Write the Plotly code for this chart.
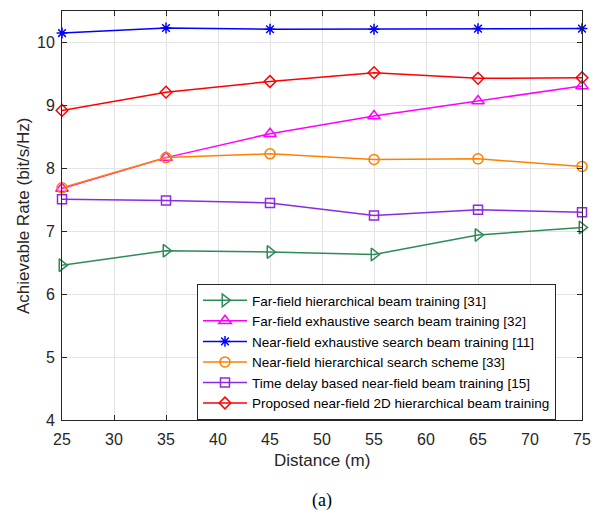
import plotly.graph_objects as go

distance = [25, 35, 45, 55, 65, 75]
far_hier = [6.46, 6.69, 6.67, 6.63, 6.94, 7.06]
far_exh = [7.68, 8.17, 8.55, 8.83, 9.07, 9.31]
near_exh = [10.15, 10.23, 10.21, 10.21, 10.22, 10.22]
near_hier = [7.69, 8.17, 8.23, 8.14, 8.15, 8.03]
time_delay = [7.51, 7.49, 7.45, 7.25, 7.34, 7.30]
proposed = [8.92, 9.21, 9.38, 9.52, 9.43, 9.44]

names = [
    "Far-field hierarchical beam training [31]",
    "Far-field exhaustive search beam training [32]",
    "Near-field exhaustive search beam training [11]",
    "Near-field hierarchical search scheme [33]",
    "Time delay based near-field beam training [15]",
    "Proposed near-field 2D hierarchical beam training",
]
series = [far_hier, far_exh, near_exh, near_hier, time_delay, proposed]
colors = ["#2E8B57", "#FF00FF", "#0000FF", "#FF8000", "#8A2BE2", "#FF0000"]
symbols = ["triangle-right-open", "triangle-up-open", "asterisk-open",
           "circle-open", "square-open", "diamond-open"]
msizes = [11, 11, 9, 10, 9, 9]

fig = go.Figure()
for n, s, c, sym, ms in zip(names, series, colors, symbols, msizes):
    fig.add_trace(go.Scatter(
        x=distance, y=s, name=n, mode="lines+markers",
        line=dict(color=c, width=1.5),
        marker=dict(symbol=sym, size=ms, color=c, line=dict(color=c, width=1.5)),
        cliponaxis=False,
    ))

FONT = "Liberation Sans, Arial, Helvetica"
axis_common = dict(
    showgrid=True, gridcolor="#E3E3E3", gridwidth=1,
    showline=True, linecolor="#262626", linewidth=1, mirror="ticks",
    ticks="inside", ticklen=5, tickcolor="#262626",
    tickfont=dict(family=FONT, size=16, color="#262626"),
    zeroline=False, automargin=False,
)

fig.update_layout(
    width=593, height=510,
    margin=dict(l=62, r=11, t=11, b=90, autoexpand=False),
    paper_bgcolor="white", plot_bgcolor="white",
    xaxis=dict(range=[25, 75], tickmode="array",
               tickvals=[25, 30, 35, 40, 45, 50, 55, 60, 65, 70, 75],
               ticklabelstandoff=5, **axis_common),
    yaxis=dict(range=[4, 10.5], tickmode="array", tickvals=[4, 5, 6, 7, 8, 9, 10],
               ticklabelstandoff=3, **axis_common),
    legend=dict(x=0.2596, y=0.3325, xanchor="left", yanchor="top",
                bgcolor="white", bordercolor="#262626", borderwidth=1,
                font=dict(family=FONT, size=13.5, color="#000000"),
                tracegroupgap=0, itemwidth=44,
                entrywidth=318, entrywidthmode="pixels"),
    showlegend=True,
)

fig.add_annotation(text="Distance (m)", x=0.5, y=-0.098, xref="paper", yref="paper",
                   showarrow=False, xanchor="center", yanchor="middle",
                   font=dict(family=FONT, size=17, color="#262626"))
fig.add_annotation(text="Achievable Rate (bit/s/Hz)", x=-0.074, y=0.5,
                   xref="paper", yref="paper", textangle=-90,
                   showarrow=False, xanchor="center", yanchor="middle",
                   font=dict(family=FONT, size=17, color="#262626"))
fig.add_annotation(text="(a)", x=0.5, y=-0.196, xref="paper", yref="paper",
                   showarrow=False, xanchor="center", yanchor="middle",
                   font=dict(family="Liberation Serif, Times New Roman", size=18, color="#000000"))

fig.write_html(
    "out.html",
    config={"displayModeBar": False},
    post_script="document.body.style.margin='0';document.body.style.overflow='hidden';",
)
